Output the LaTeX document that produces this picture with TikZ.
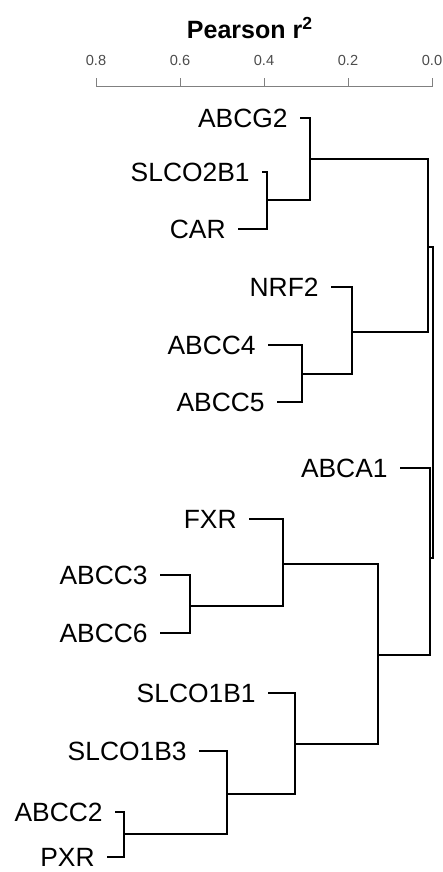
\documentclass[tikz,border=0pt]{standalone}
\usepackage{fontspec}
\setmainfont{Liberation Sans}
\usetikzlibrary{positioning}

\begin{document}
\begin{tikzpicture}[x=0.5pt,y=-0.5pt,
    g/.style={anchor=east,inner xsep=6pt,inner ysep=0pt,font=\fontsize{13.2}{15}\selectfont},
    br/.style={line width=0.8pt,black},
    ax/.style={line width=0.5pt,gray},
    tk/.style={font=\fontsize{7.3}{8}\selectfont,text=gray!60!black,inner sep=0pt}]
  \useasboundingbox (0,0) rectangle (443,872);
  % axis
  \node[font=\bfseries\fontsize{12.5}{14}\selectfont] (title) at (250,28) {Pearson r\textsuperscript{2}};
  \draw[ax] (96,87) -- (432,87);
  \foreach \r [count=\i] in {0.8,0.6,0.4,0.2,0.0} {
    \draw[ax] ({432-420*\r},87) -- ({432-420*\r},78);
    \node[tk] (t\i) at ({432-420*\r},60) {\r};
  }
  % leaves
  \node[g] (abcg2) at (300,118) {ABCG2};
  \node[g] (slco2b1) at (262,172) {SLCO2B1};
  \node[g] (car) at (238,229) {CAR};
  \node[g] (nrf2) at (331,287) {NRF2};
  \node[g] (abcc4) at (268,345) {ABCC4};
  \node[g] (abcc5) at (277,402) {ABCC5};
  \node[g] (abca1) at (400,468) {ABCA1};
  \node[g] (fxr) at (249,519) {FXR};
  \node[g] (abcc3) at (160,575) {ABCC3};
  \node[g] (abcc6) at (160,633) {ABCC6};
  \node[g] (slco1b1) at (268,693) {SLCO1B1};
  \node[g] (slco1b3) at (199,751) {SLCO1B3};
  \node[g] (abcc2) at (115,812) {ABCC2};
  \node[g] (pxr) at (107,857) {PXR};
  % joins
  \coordinate (j1) at (267,200);
  \coordinate (j2) at (310,159);
  \coordinate (j3) at (302,374);
  \coordinate (j4) at (352,332);
  \coordinate (j5) at (428,247);
  \coordinate (j6) at (190,606);
  \coordinate (j7) at (283,564);
  \coordinate (j8) at (124,834);
  \coordinate (j9) at (227,794);
  \coordinate (j10) at (295,744);
  \coordinate (j11) at (378,655);
  \coordinate (j12) at (430,558);
  \coordinate (j13) at (433,402);
  \foreach \a/\b in {slco2b1.east/j1,car.east/j1,abcg2.east/j2,j1/j2,
      abcc4.east/j3,abcc5.east/j3,nrf2.east/j4,j3/j4,j2/j5,j4/j5,
      abcc3.east/j6,abcc6.east/j6,fxr.east/j7,j6/j7,
      abcc2.east/j8,pxr.east/j8,slco1b3.east/j9,j8/j9,slco1b1.east/j10,j9/j10,
      j7/j11,j10/j11,abca1.east/j12,j11/j12,j5/j13,j12/j13}
    \draw[br] (\a) -| (\b);
\end{tikzpicture}
\end{document}
